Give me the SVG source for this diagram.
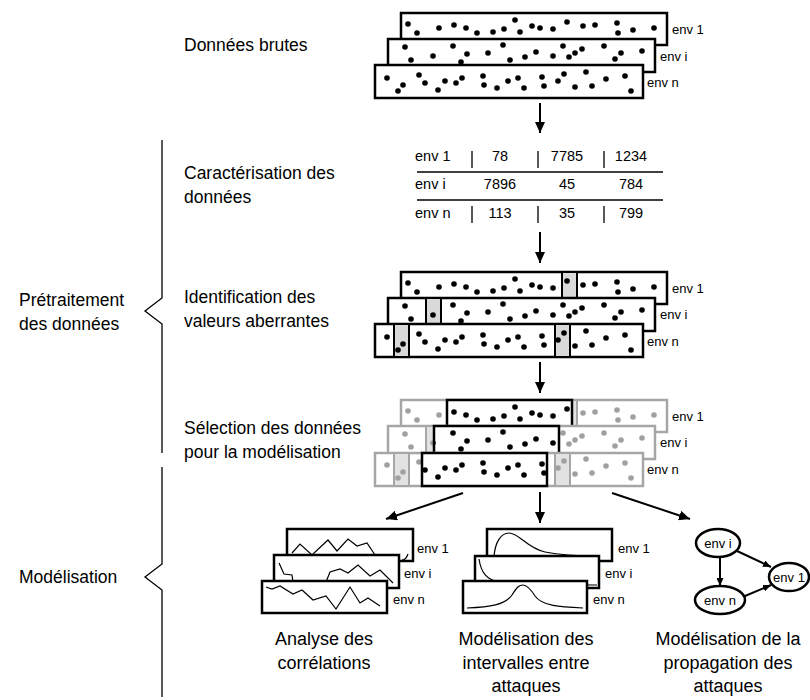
<svg xmlns="http://www.w3.org/2000/svg" xmlns:xlink="http://www.w3.org/1999/xlink" width="810" height="700" viewBox="0 0 810 700">
<style>
text{font-family:"Liberation Sans",Arial,sans-serif;fill:#000}
.lbl{font-size:17.5px}
.cap{font-size:18px;text-anchor:middle}
.env{font-size:13px}
.tab{font-size:14.5px}
.tn{font-size:14.5px;text-anchor:middle}
.box{fill:#fff;stroke:#000;stroke-width:2.5}
.gbox{fill:#fff;stroke:#a6a6a6;stroke-width:2.5}
.col{fill:#d9d9d9;stroke:#000;stroke-width:2}
.gcol{fill:#e2e2e2;stroke:#a6a6a6;stroke-width:2}
.conn{stroke:#000;stroke-width:2;fill:none}
.thin{stroke:#000;stroke-width:1.2;fill:none}
.brace{stroke:#000;stroke-width:1.3;fill:none}
.ell{fill:#fff;stroke:#000;stroke-width:2.5}
circle{r:2.8}
</style>
<defs>
<marker id="ah" markerUnits="userSpaceOnUse" markerWidth="11" markerHeight="10" refX="11" refY="5" orient="auto"><path d="M0,0 L11,5 L0,10 z" fill="#000"/></marker>
<marker id="ahs" markerUnits="userSpaceOnUse" markerWidth="8" markerHeight="7" refX="8" refY="3.5" orient="auto"><path d="M0,0 L8,3.5 L0,7 z" fill="#000"/></marker>
<g id="d1">
<circle cx="408" cy="24" r="2.8"/><circle cx="417" cy="33" r="2.8"/><circle cx="439" cy="28" r="2.8"/><circle cx="454" cy="25" r="2.8"/><circle cx="466" cy="28" r="2.8"/><circle cx="477" cy="33" r="2.8"/><circle cx="493" cy="32" r="2.8"/><circle cx="504" cy="29" r="2.8"/><circle cx="515" cy="20" r="2.8"/><circle cx="520" cy="32" r="2.8"/><circle cx="532" cy="26" r="2.8"/><circle cx="540" cy="28" r="2.8"/><circle cx="553" cy="29" r="2.8"/><circle cx="567" cy="22" r="2.8"/><circle cx="583" cy="26" r="2.8"/><circle cx="595" cy="25" r="2.8"/><circle cx="617" cy="23" r="2.8"/><circle cx="618" cy="33" r="2.8"/><circle cx="633" cy="30" r="2.8"/><circle cx="654" cy="28" r="2.8"/>
</g>
<g id="di">
<circle cx="405" cy="47" r="2.8"/><circle cx="411" cy="60" r="2.8"/><circle cx="433" cy="56" r="2.8"/><circle cx="453" cy="46" r="2.8"/><circle cx="461" cy="62" r="2.8"/><circle cx="467" cy="54" r="2.8"/><circle cx="488" cy="53" r="2.8"/><circle cx="503" cy="45" r="2.8"/><circle cx="510" cy="60" r="2.8"/><circle cx="525" cy="57" r="2.8"/><circle cx="536" cy="52" r="2.8"/><circle cx="553" cy="56" r="2.8"/><circle cx="563" cy="46" r="2.8"/><circle cx="569" cy="57" r="2.8"/><circle cx="575" cy="53" r="2.8"/><circle cx="582" cy="49" r="2.8"/><circle cx="604" cy="46" r="2.8"/><circle cx="615" cy="59" r="2.8"/><circle cx="621" cy="53" r="2.8"/><circle cx="642" cy="51" r="2.8"/>
</g>
<g id="dn">
<circle cx="387" cy="78" r="2.8"/><circle cx="398" cy="91" r="2.8"/><circle cx="403" cy="85" r="2.8"/><circle cx="419" cy="75" r="2.8"/><circle cx="425" cy="83" r="2.8"/><circle cx="438" cy="90" r="2.8"/><circle cx="445" cy="81" r="2.8"/><circle cx="456" cy="83" r="2.8"/><circle cx="462" cy="78" r="2.8"/><circle cx="483" cy="76" r="2.8"/><circle cx="484" cy="85" r="2.8"/><circle cx="497" cy="88" r="2.8"/><circle cx="508" cy="81" r="2.8"/><circle cx="518" cy="78" r="2.8"/><circle cx="524" cy="88" r="2.8"/><circle cx="542" cy="77" r="2.8"/><circle cx="544" cy="86" r="2.8"/><circle cx="558" cy="81" r="2.8"/><circle cx="564" cy="74" r="2.8"/><circle cx="575" cy="87" r="2.8"/><circle cx="586" cy="72" r="2.8"/><circle cx="592" cy="86" r="2.8"/><circle cx="606" cy="79" r="2.8"/><circle cx="625" cy="76" r="2.8"/><circle cx="631" cy="91" r="2.8"/>
</g>
<clipPath id="s1"><rect x="447" y="400" width="125" height="32"/></clipPath>
<clipPath id="si"><rect x="434" y="426" width="125" height="32"/></clipPath>
<clipPath id="sn"><rect x="422" y="453" width="125" height="32"/></clipPath>
</defs>

<!-- left phase labels and braces -->
<g id="phase-pretraitement">
<path class="brace" d="M162,140 V298 L145,311 L162,324 V453"/>
<text class="lbl" x="19" y="306">Prétraitement</text>
<text class="lbl" x="19" y="330">des données</text>
</g>
<g id="phase-modelisation">
<path class="brace" d="M162,467 V564 L145,577 L162,590 V697"/>
<text class="lbl" x="19" y="583">Modélisation</text>
</g>

<!-- step labels -->
<g id="step-labels">
<text class="lbl" x="184" y="51">Données brutes</text>
<text class="lbl" x="184" y="179">Caractérisation des</text>
<text class="lbl" x="184" y="203">données</text>
<text class="lbl" x="184" y="303">Identification des</text>
<text class="lbl" x="184" y="327">valeurs aberrantes</text>
<text class="lbl" x="184" y="434">Sélection des données</text>
<text class="lbl" x="184" y="458">pour la modélisation</text>
</g>

<!-- stage 1: raw data -->
<g id="raw-data">
<rect class="box" x="401" y="13" width="266" height="32"/>
<use xlink:href="#d1" href="#d1"/>
<rect class="box" x="388" y="39" width="267" height="33"/>
<use xlink:href="#di" href="#di"/>
<rect class="box" x="375" y="65" width="268" height="33"/>
<use xlink:href="#dn" href="#dn"/>
<text class="env" x="672" y="34">env 1</text>
<text class="env" x="660" y="61">env i</text>
<text class="env" x="647" y="87">env n</text>
</g>

<!-- stage 2: table -->
<g id="table">
<line x1="417" y1="172" x2="663" y2="172" stroke="#000" stroke-width="1.3"/>
<line x1="417" y1="200" x2="663" y2="200" stroke="#000" stroke-width="1.3"/>
<path d="M472,151 V168 M538,151 V168 M604,151 V168 M472,206 V223 M538,206 V223 M604,206 V223" stroke="#000" stroke-width="1.3"/>
<text class="tab" x="415" y="161">env 1</text>
<text class="tn" x="500" y="161">78</text>
<text class="tn" x="567" y="161">7785</text>
<text class="tn" x="631" y="161">1234</text>
<text class="tab" x="415" y="189">env i</text>
<text class="tn" x="500" y="189">7896</text>
<text class="tn" x="567" y="189">45</text>
<text class="tn" x="631" y="189">784</text>
<text class="tab" x="415" y="218">env n</text>
<text class="tn" x="500" y="218">113</text>
<text class="tn" x="567" y="218">35</text>
<text class="tn" x="631" y="218">799</text>
</g>

<!-- stage 3: outliers -->
<g id="outliers">
<rect class="box" x="401" y="272" width="266" height="32"/>
<rect class="col" x="562" y="272" width="15" height="32"/>
<use xlink:href="#d1" href="#d1" transform="translate(0,259)"/>
<rect class="box" x="388" y="298" width="267" height="33"/>
<rect class="col" x="426" y="298" width="15" height="33"/>
<use xlink:href="#di" href="#di" transform="translate(0,259)"/>
<rect class="box" x="375" y="324" width="268" height="33"/>
<rect class="col" x="394" y="324" width="15" height="33"/>
<rect class="col" x="555" y="324" width="15" height="33"/>
<use xlink:href="#dn" href="#dn" transform="translate(0,259)"/>
<text class="env" x="672" y="293">env 1</text>
<text class="env" x="660" y="319">env i</text>
<text class="env" x="647" y="346">env n</text>
</g>

<!-- stage 4: selection -->
<g id="selection">
<rect class="gbox" x="401" y="400" width="266" height="32"/>
<rect class="gcol" x="562" y="400" width="15" height="32"/>
<use xlink:href="#d1" href="#d1" transform="translate(0,387)" fill="#a0a0a0"/>
<rect class="box" x="447" y="400" width="125" height="32"/>
<g clip-path="url(#s1)"><use xlink:href="#d1" href="#d1" transform="translate(0,387)"/></g>
<rect class="gbox" x="388" y="426" width="267" height="33"/>
<rect class="gcol" x="426" y="426" width="15" height="33"/>
<use xlink:href="#di" href="#di" transform="translate(0,387)" fill="#a0a0a0"/>
<rect class="box" x="434" y="426" width="125" height="32"/>
<g clip-path="url(#si)"><use xlink:href="#di" href="#di" transform="translate(0,387)"/></g>
<rect class="gbox" x="375" y="453" width="268" height="33"/>
<rect class="gcol" x="394" y="453" width="15" height="33"/>
<rect class="gcol" x="555" y="453" width="15" height="33"/>
<use xlink:href="#dn" href="#dn" transform="translate(0,387)" fill="#a0a0a0"/>
<rect class="box" x="422" y="453" width="125" height="33"/>
<g clip-path="url(#sn)"><use xlink:href="#dn" href="#dn" transform="translate(0,387)"/></g>
<text class="env" x="672" y="421">env 1</text>
<text class="env" x="660" y="447">env i</text>
<text class="env" x="647" y="474">env n</text>
</g>

<!-- model 1: correlations -->
<g id="correlations">
<rect class="box" x="287" y="529" width="126" height="32"/>
<polyline class="thin" points="292,553 300,544 312,555 328,540 337,551 348,539 357,546 367,543 375,555"/>
<path class="thin" d="M402,560 Q406,560 408,554"/>
<rect class="box" x="274" y="555" width="125" height="33"/>
<polyline class="thin" points="279,563 284,574 292,575 293,582"/>
<polyline class="thin" points="326,582 330,572 340,569 348,573 358,565 370,576 380,570 393,583"/>
<rect class="box" x="262" y="581" width="125" height="32"/>
<polyline class="thin" points="266,587 272,589 280,586 293,594 302,590 313,600 326,596 336,609 350,587 360,603 368,598 380,606"/>
<text class="env" x="417" y="553">env 1</text>
<text class="env" x="404" y="578">env i</text>
<text class="env" x="393" y="604">env n</text>
<text class="cap" x="324" y="645">Analyse des</text>
<text class="cap" x="324" y="669">corrélations</text>
</g>

<!-- model 2: intervals -->
<g id="intervals">
<rect class="box" x="487" y="529" width="125" height="32"/>
<path class="thin" d="M494,557 C495,542 501,533 509,533 C519,533 527,548 545,552 C560,555 575,556 598,556"/>
<rect class="box" x="475" y="556" width="124" height="32"/>
<path class="thin" d="M479,559 C481,572 486,580 500,582 C520,585 560,585 597,585"/>
<rect class="box" x="463" y="581" width="124" height="32"/>
<path class="thin" d="M467,608 C490,607 505,605 512,595 C517,587 519,585 523,585 C527,585 530,588 535,596 C542,606 560,607 583,608"/>
<text class="env" x="618" y="553">env 1</text>
<text class="env" x="605" y="578">env i</text>
<text class="env" x="593" y="604">env n</text>
<text class="cap" x="526" y="645">Modélisation des</text>
<text class="cap" x="526" y="669">intervalles entre</text>
<text class="cap" x="526" y="692">attaques</text>
</g>

<!-- model 3: propagation graph -->
<g id="propagation">
<g id="node-env-i"><ellipse class="ell" cx="718" cy="543" rx="22" ry="14"/><text class="env" x="718" y="548" text-anchor="middle">env i</text></g>
<g id="node-env-n"><ellipse class="ell" cx="720" cy="600" rx="25" ry="14"/><text class="env" x="720" y="605" text-anchor="middle">env n</text></g>
<g id="node-env-1"><ellipse class="ell" cx="789" cy="577" rx="20" ry="14"/><text class="env" x="789" y="582" text-anchor="middle">env 1</text></g>
<text class="cap" x="728" y="645">Modélisation de la</text>
<text class="cap" x="728" y="669">propagation des</text>
<text class="cap" x="728" y="692">attaques</text>
</g>

<!-- connectors -->
<g id="connectors">
<line class="conn" x1="540" y1="103" x2="540" y2="133" marker-end="url(#ah)"/>
<line class="conn" x1="540" y1="232" x2="540" y2="263" marker-end="url(#ah)"/>
<line class="conn" x1="540" y1="362" x2="540" y2="393" marker-end="url(#ah)"/>
<line class="conn" x1="463" y1="493" x2="386" y2="519" marker-end="url(#ah)"/>
<line class="conn" x1="540" y1="492" x2="540" y2="523" marker-end="url(#ah)"/>
<line class="conn" x1="612" y1="493" x2="690" y2="519" marker-end="url(#ah)"/>
<line class="conn" x1="720" y1="557" x2="720" y2="586" marker-end="url(#ahs)"/>
<line class="conn" x1="737" y1="551" x2="771" y2="567" marker-end="url(#ahs)"/>
<line class="conn" x1="745" y1="596" x2="771" y2="585" marker-end="url(#ahs)"/>
</g>
</svg>
